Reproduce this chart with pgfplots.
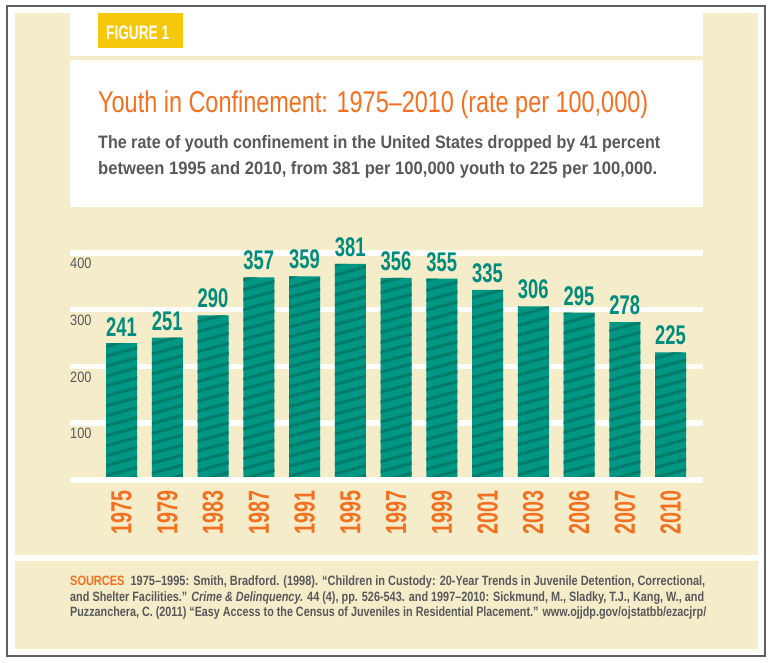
\documentclass[border=0pt]{standalone}
\usepackage{fontspec}
\setmainfont{Liberation Sans}
\newfontfamily\condA{Liberation Sans}[FakeStretch=0.68]
\newfontfamily\condB{Liberation Sans}[FakeStretch=0.85]
\newfontfamily\condC{Liberation Sans}[FakeStretch=0.78]
\usepackage{graphicx}
\usepackage{pgfplots}
\pgfplotsset{compat=1.18}
\usetikzlibrary{patterns.meta}
\definecolor{cream}{HTML}{F5ECC9}
\definecolor{bordergray}{HTML}{5E5E5E}
\definecolor{txtgray}{HTML}{58595B}
\definecolor{orng}{HTML}{F37021}
\definecolor{figyellow}{HTML}{F6C80C}
\definecolor{barteal}{HTML}{009684}
\definecolor{stripeteal}{HTML}{007D6A}
\definecolor{labteal}{HTML}{008C7C}
\begin{document}
\begin{tikzpicture}[x=1bp,y=1bp]
\path[use as bounding box] (0,0) rectangle (775,663);
\fill[white] (0,0) rectangle (775,663);
\draw[bordergray, line width=1.5bp] (7,7) rectangle (765,657);
\fill[cream] (15,108.3) rectangle (758,650);
\fill[cream] (15,14) rectangle (758,102);
\fill[white] (70,607) rectangle (703,650);
\fill[white] (70,456) rectangle (703,603);
\fill[figyellow] (98,615) rectangle (183,650);
\node[anchor=base west, inner sep=0pt, text=white] at (106,623)
  {\resizebox{63bp}{\height}{\condA\bfseries\fontsize{19.5bp}{19.5bp}\selectfont FIGURE 1}};
\node[anchor=base west, inner sep=0pt, text=orng] at (98,550)
  {\resizebox{550bp}{\height}{\condA\fontsize{30bp}{30bp}\selectfont Youth in Confinement: 1975–2010 (rate per 100,000)}};
\node[anchor=base west, inner sep=0pt, text=txtgray] at (98,514)
  {\resizebox{562bp}{\height}{\condA\bfseries\fontsize{18bp}{18bp}\selectfont The rate of youth confinement in the United States dropped by 41 percent}};
\node[anchor=base west, inner sep=0pt, text=txtgray] at (98,488)
  {\resizebox{559bp}{\height}{\condA\bfseries\fontsize{18bp}{18bp}\selectfont between 1995 and 2010, from 381 per 100,000 youth to 225 per 100,000.}};
\node[anchor=base west, inner sep=0pt, text=txtgray] at (70,77)
  {\resizebox{635bp}{\height}{\condC\bfseries\fontsize{13.5bp}{13.5bp}\selectfont\textcolor{orng}{SOURCES}\ \ 1975–1995: Smith, Bradford. (1998). “Children in Custody: 20-Year Trends in Juvenile Detention, Correctional,}};
\node[anchor=base west, inner sep=0pt, text=txtgray] at (70,61)
  {\resizebox{634bp}{\height}{\condC\bfseries\fontsize{13.5bp}{13.5bp}\selectfont and Shelter Facilities.” \textit{Crime \& Delinquency.} 44 (4), pp. 526-543. and 1997–2010: Sickmund, M., Sladky, T.J., Kang, W., and}};
\node[anchor=base west, inner sep=0pt, text=txtgray] at (70,46)
  {\resizebox{636bp}{\height}{\condC\bfseries\fontsize{13.5bp}{13.5bp}\selectfont Puzzanchera, C. (2011) “Easy Access to the Census of Juveniles in Residential Placement.” www.ojjdp.gov/ojstatbb/ezacjrp/}};
\coordinate (axpos) at (70,183);
\begin{axis}[
  at={(axpos)}, anchor=south west, scale only axis,
  width=633bp, height=238.35bp,
  xmin=-1.126, xmax=12.71, ymin=0, ymax=420,
  clip=false,
  axis line style={draw=none},
  major tick length=0pt,
  /pgf/number format/assume math mode=true,
  ymajorgrids, grid style={white, line width=5.5bp},
  ytick={0,100,200,300,400},
  yticklabels={,100,200,300,400},
  yticklabel style={anchor=north west, inner sep=0pt, yshift=-5bp, text=txtgray,
    font=\condB\fontsize{15bp}{15bp}\selectfont},
  xtick={0,1,2,3,4,5,6,7,8,9,10,11,12},
  xticklabels={1975,1979,1983,1987,1991,1995,1997,1999,2001,2003,2006,2007,2010},
  xticklabel style={rotate=90, anchor=east, inner sep=0pt, text=orng,
    font=\condA\bfseries\fontsize{29bp}{29bp}\selectfont},
  xticklabel shift=10bp,
]
\addplot[ybar, bar width=31bp, fill=barteal, draw=none,
  postaction={pattern color=stripeteal, pattern={Lines[angle=15,distance=9.6bp,line width=3bp]}}]
  coordinates {(0,241) (1,251) (2,290) (3,357) (4,359) (5,381) (6,356) (7,355) (8,335) (9,306) (10,295) (11,278) (12,225)};
\addplot[draw=none, mark=none, nodes near coords,
  every node near coord/.append style={anchor=south, inner sep=0pt, yshift=7bp, text=labteal,
    font=\condA\bfseries\fontsize{27bp}{27bp}\selectfont}]
  coordinates {(0,241) (1,251) (2,290) (3,357) (4,359) (5,381) (6,356) (7,355) (8,335) (9,306) (10,295) (11,278) (12,225)};
\draw[white, line width=5.5bp] (rel axis cs:0,0) -- (rel axis cs:1,0);
\end{axis}
\end{tikzpicture}
\end{document}
